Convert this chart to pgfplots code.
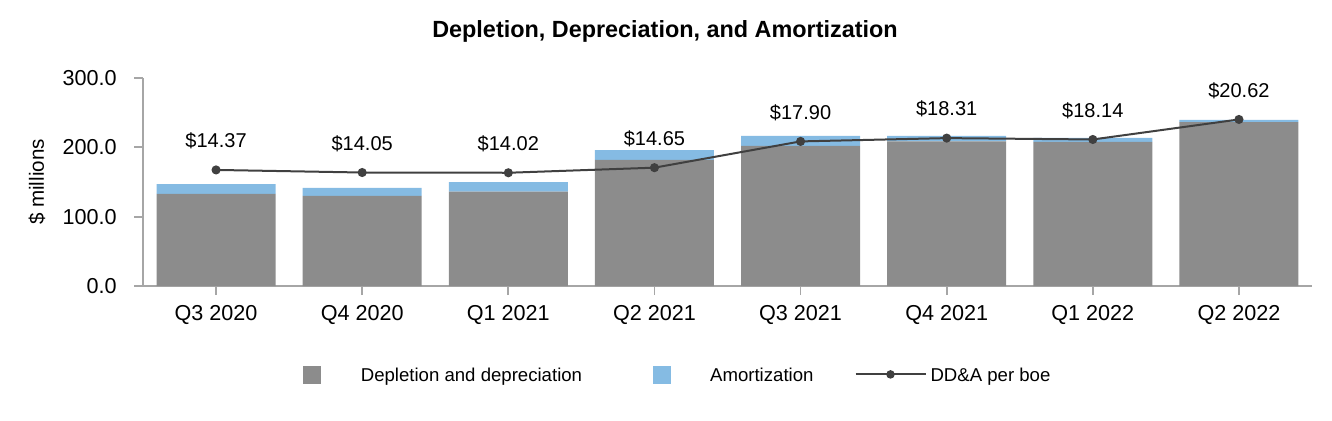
\documentclass[border=0pt]{standalone}
\usepackage{pgfplots}
\pgfplotsset{compat=1.18}
\usepackage{fontspec}
\setmainfont{Liberation Sans}
\definecolor{depc}{HTML}{8C8C8C}
\definecolor{amoc}{HTML}{85BBE3}
\definecolor{linec}{HTML}{404040}
\definecolor{axc}{HTML}{A6A6A6}
\begin{document}
\begin{tikzpicture}
\path (0,0) rectangle (666pt,210pt);
\node[font=\fontsize{11.7}{14}\selectfont\bfseries] at (332.5pt,194.5pt) {Depletion, Depreciation, and Amortization};
\begin{axis}[
  at={(71.5pt,67pt)}, anchor=south west,
  scale only axis, width=584.5pt, height=104pt,
  xmin=-0.5, xmax=7.5, ymin=0, ymax=300,
  axis x line=bottom, axis y line=left,
  axis line style={axc, -, line width=0.9pt},
  xtick={0,1,2,3,4,5,6,7},
  xticklabels={Q3 2020,Q4 2020,Q1 2021,Q2 2021,Q3 2021,Q4 2021,Q1 2022,Q2 2022},
  ytick={0,100,200,300},
  yticklabels={0.0,100.0,200.0,300.0},
  tick style={axc, line width=0.9pt},
  major tick length=4.5pt, tick align=outside,
  xticklabel style={anchor=center, inner sep=0pt, yshift=-10pt, font=\fontsize{10.8}{13}\selectfont},
  yticklabel style={anchor=east, inner sep=0pt, xshift=-8.5pt, font=\fontsize{10.8}{13}\selectfont},
  ylabel={\$ millions},
  ylabel style={at={(axis description cs:-0.0907,0.5)}, anchor=center, font=\fontsize{10.3}{12}\selectfont},
  ybar stacked, bar width=0.815,
  clip=false,
]
\addplot[fill=depc, draw=none] coordinates {(0,133) (1,130) (2,136) (3,182) (4,202) (5,208.5) (6,208) (7,236.5)};
\addplot[fill=amoc, draw=none] coordinates {(0,14) (1,11.5) (2,14) (3,14) (4,14.5) (5,8) (6,5.5) (7,3)};
\end{axis}
\begin{axis}[
  at={(71.5pt,67pt)}, anchor=south west,
  scale only axis, width=584.5pt, height=104pt,
  xmin=-0.5, xmax=7.5, ymin=0, ymax=25.75,
  hide axis, clip=false,
  legend columns=3,
  legend cell align=left,
  legend style={at={(0.1369,-0.425)}, anchor=west, draw=none, fill=none,
    inner xsep=0pt, inner ysep=0pt,
    nodes={inner sep=0pt, text depth=0pt},
    font=\fontsize{9.3}{11}\selectfont},
]
\addlegendimage{legend image code/.code={\path[draw=none,fill=none] (0pt,0pt) -- (28.5pt,0pt); \fill[depc] (0pt,-4.25pt) rectangle (8.5pt,4.25pt);}}
\addlegendentry{Depletion and depreciation}
\addlegendimage{legend image code/.code={\path[draw=none,fill=none] (0pt,0pt) -- (64pt,0pt); \fill[amoc] (35.5pt,-4.25pt) rectangle (44pt,4.25pt);}}
\addlegendentry{Amortization}
\addplot[linec, line width=1pt, mark=*, mark size=1.75pt,
  legend image code/.code={\path[draw=none,fill=none] (0pt,0pt) -- (58.5pt,0pt); \draw[linec, line width=1pt] (21pt,0pt) -- (56pt,0pt); \fill[linec] (38.5pt,0pt) circle (1.6pt);},
  point meta=explicit symbolic,
  nodes near coords,
  every node near coord/.append style={anchor=center, yshift=14.5pt, text=black, font=\fontsize{10}{12}\selectfont},
] coordinates {(0,14.37)[\$14.37] (1,14.05)[\$14.05] (2,14.02)[\$14.02] (3,14.65)[\$14.65] (4,17.90)[\$17.90] (5,18.31)[\$18.31] (6,18.14)[\$18.14] (7,20.62)[\$20.62]};
\addlegendentry{DD\&A per boe}
\end{axis}
\end{tikzpicture}
\end{document}
